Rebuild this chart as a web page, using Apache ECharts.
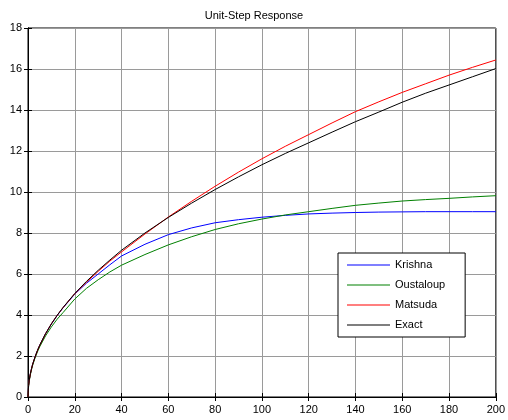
<!DOCTYPE html>
<html>
<head>
<meta charset="utf-8">
<style>
	html, body { margin: 0; padding: 0; background: #fff; }
	#main { width: 508px; height: 420px; }
</style>
</head>
<body>
<div id="main"></div>
<script src="https://cdn.jsdelivr.net/npm/echarts@6/dist/echarts.min.js"></script>
<script>
	// time samples and responses
	var t = [0, 0.25, 0.5, 1, 1.5, 2, 3, 4, 5, 7.5, 10, 12.5, 15, 20, 25, 30, 35, 40, 50, 60, 70, 80, 90, 100, 110, 120, 130, 140, 150, 160, 170, 180, 190, 200];
	var krishna = [0, 0.56, 0.8, 1.12, 1.38, 1.6, 1.95, 2.25, 2.52, 3.08, 3.56, 3.98, 4.35, 5.02, 5.55, 6.0, 6.45, 6.88, 7.45, 7.92, 8.25, 8.5, 8.65, 8.77, 8.86, 8.93, 8.97, 9.0, 9.02, 9.03, 9.04, 9.04, 9.04, 9.04];
	var oustaloup = [0, 0.52, 0.75, 1.08, 1.33, 1.55, 1.9, 2.19, 2.45, 2.98, 3.42, 3.8, 4.12, 4.78, 5.3, 5.72, 6.1, 6.43, 6.95, 7.42, 7.82, 8.17, 8.45, 8.68, 8.88, 9.04, 9.2, 9.35, 9.46, 9.56, 9.63, 9.69, 9.76, 9.82];
	var matsuda = [0, 0.56, 0.8, 1.12, 1.38, 1.6, 1.95, 2.25, 2.52, 3.08, 3.57, 3.99, 4.36, 5.04, 5.6, 6.13, 6.63, 7.08, 7.95, 8.78, 9.55, 10.28, 10.97, 11.62, 12.23, 12.8, 13.37, 13.92, 14.4, 14.86, 15.28, 15.7, 16.08, 16.44];
	var exact = [0, 0.56, 0.8, 1.13, 1.38, 1.6, 1.95, 2.26, 2.52, 3.09, 3.57, 3.99, 4.37, 5.05, 5.64, 6.18, 6.68, 7.16, 8.0, 8.76, 9.46, 10.12, 10.74, 11.33, 11.88, 12.4, 12.92, 13.43, 13.9, 14.38, 14.82, 15.22, 15.62, 16.02];

	var names = ['Krishna', 'Oustaloup', 'Matsuda', 'Exact'];
	var colors = ['#0000ff', '#008000', '#ff0000', '#000000'];
	var values = [krishna, oustaloup, matsuda, exact];

	function pairs(ys){
		var out = [];
		for(var i=0;i<t.length;i++){
			out.push([t[i], ys[i]]);
		}
		return out;
	}

	var font = 'Liberation Sans, Arial, sans-serif';
	var gridLine = { show: true, lineStyle: { color: '#9a9a9a', width: 1 } };

	var series = [];
	for(var k=0;k<names.length;k++){
		series.push({
			name: names[k],
			type: 'line',
			data: pairs(values[k]),
			symbol: 'none',
			lineStyle: { color: colors[k], width: 1 },
			itemStyle: { color: colors[k] },
			xAxisIndex: 0,
			yAxisIndex: 0,
			silent: true
		});
	}

	var myChart = echarts.init(document.getElementById('main'));
	var option = {
		animation: false,
		backgroundColor: '#fff',
		title: {
			text: 'Unit-Step Response',
			left: 'center',
			top: 5,
			textStyle: { fontFamily: font, fontSize: 11, fontWeight: 'normal', color: '#000' }
		},
		grid: {
			left: 28, right: 12, top: 28, bottom: 23,
			show: true, borderColor: '#000', borderWidth: 1
		},
		legend: {
			orient: 'vertical',
			left: 338,
			top: 253,
			data: names,
			icon: 'rect',
			itemWidth: 43,
			itemHeight: 1,
			itemGap: 6,
			padding: [5, 20, 5, 9],
			backgroundColor: '#fff',
			borderColor: '#000',
			borderWidth: 1,
			borderRadius: 0,
			textStyle: { fontFamily: font, fontSize: 11, lineHeight: 14, color: '#000' }
		},
		xAxis: [{
			type: 'value', min: 0, max: 200, interval: 20,
			axisLine: { show: true, onZero: false, lineStyle: { color: '#000' } },
			axisTick: { show: true, inside: true, length: 4, lineStyle: { color: '#000' } },
			axisLabel: { fontFamily: font, fontSize: 11, color: '#000', margin: 7 },
			splitLine: gridLine
		}, {
			type: 'value', min: 0, max: 200, interval: 20, position: 'top',
			axisLine: { show: true, lineStyle: { color: '#000' } },
			axisTick: { show: true, inside: true, length: 4, lineStyle: { color: '#000' } },
			axisLabel: { show: false },
			splitLine: { show: false }
		}],
		yAxis: [{
			type: 'value', min: 0, max: 18, interval: 2,
			axisLine: { show: true, onZero: false, lineStyle: { color: '#000' } },
			axisTick: { show: true, inside: true, length: 4, lineStyle: { color: '#000' } },
			axisLabel: { fontFamily: font, fontSize: 11, color: '#000', margin: 6 },
			splitLine: gridLine
		}, {
			type: 'value', min: 0, max: 18, interval: 2, position: 'right',
			axisLine: { show: true, lineStyle: { color: '#000' } },
			axisTick: { show: true, inside: true, length: 4, lineStyle: { color: '#000' } },
			axisLabel: { show: false },
			splitLine: { show: false }
		}],
		series: series
	};
	myChart.setOption(option);
</script>
</body>
</html>
